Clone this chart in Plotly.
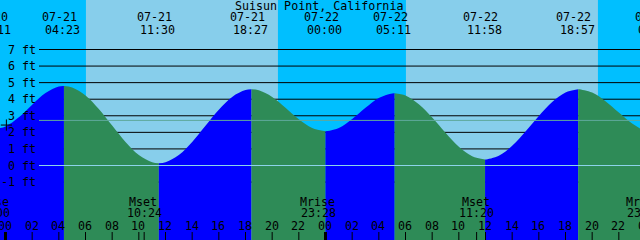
import pandas as pd
import plotly.graph_objects as go

# ---------------- data ----------------
YEAR = "2024"
title_text = "Suisun Point, California"

tide_times = ["07-20 23:11", "07-21 04:23", "07-21 11:30", "07-21 18:27",
              "07-22 00:00", "07-22 05:11", "07-22 11:58", "07-22 18:57",
              "07-23 00:50"]
tide_heights = [2.20, 4.80, 0.14, 4.60, 2.06, 4.36, 0.36, 4.60, 1.95]

hourly_start = "07-20 23:00"
hourly_heights = [2.21, 2.36, 2.91, 3.67, 4.37, 4.77, 4.71, 4.23, 3.41, 2.41,
                  1.42, 0.63, 0.20, 0.20, 0.63, 1.42, 2.40, 3.37, 4.14, 4.55,
                  4.54, 4.14, 3.49, 2.79, 2.26, 2.06, 2.27, 2.81, 3.49, 4.08,
                  4.35, 4.22, 3.69, 2.89, 1.97, 1.13, 0.56, 0.36, 0.59, 1.19,
                  2.05, 2.99, 3.83, 4.41, 4.60, 4.40, 3.88, 3.20, 2.54, 2.08]

moon_times = ["07-20 23:00", "07-21 10:24", "07-21 23:28", "07-22 11:20", "07-22 23:55"]
moon_events = ["Mrise", "Mset", "Mrise", "Mset", "Mrise"]

sunrise_times = ["07-21 06:02", "07-22 06:02"]
sunset_times = ["07-21 20:26", "07-22 20:26"]

ft_levels = [-1, 0, 1, 2, 3, 4, 5, 6, 7]
ft_labels = ["-1 ft", "0 ft", "1 ft", "2 ft", "3 ft", "4 ft", "5 ft", "6 ft", "7 ft"]
msl_level = 2.72
mark_time = "07-21 00:04"
mark_height = 2.44

view_start = "07-20 23:35:15"
view_hours = 48
y_range = [-4.496, 9.987]

# ---------------- styles ----------------
NIGHT = "#00BFFF"
DAY = "#87CEEB"
RISE = "#0000FF"
FALL = "#2E8B57"
FONT = dict(family="DejaVu Sans Mono", size=11.67, color="black")
W, H = 640, 240


def ts(s):
    return pd.Timestamp(f"{YEAR}-{s}")


x0 = ts(view_start)
x1 = x0 + pd.Timedelta(hours=view_hours)


def frac(t):
    return (t - x0) / (x1 - x0)


hourly_t = pd.date_range(ts(hourly_start), periods=len(hourly_heights), freq="h")
hourly = pd.Series(hourly_heights, index=hourly_t)
ev_t = [ts(s) for s in tide_times]
ev = pd.Series(tide_heights, index=ev_t)
curve = pd.concat([hourly[~hourly.index.isin(ev.index)], ev]).sort_index()

bounds = sorted(set([curve.index[0], curve.index[-1]] + ev_t))

fig = go.Figure()
for a, b in zip(bounds[:-1], bounds[1:]):
    seg = curve[a:b]
    col = RISE if seg.iloc[-1] > seg.iloc[0] else FALL
    fig.add_trace(go.Scatter(x=[a, b], y=[y_range[0] - 2] * 2, mode="lines",
                             line=dict(width=0), hoverinfo="skip", showlegend=False))
    fig.add_trace(go.Scatter(x=seg.index, y=seg.values, mode="lines",
                             line=dict(width=0, shape="spline", color=col),
                             fill="tonexty", fillcolor=col,
                             hoverinfo="skip", showlegend=False))

fig.add_trace(go.Scatter(x=[ts(mark_time)], y=[mark_height], mode="markers",
                         marker=dict(symbol="cross-thin", size=8,
                                     line=dict(width=1, color="black")),
                         hoverinfo="skip", showlegend=False))

shapes = []
for sr, ss in zip(sunrise_times, sunset_times):
    shapes.append(dict(type="rect", xref="x", yref="paper", x0=ts(sr), x1=ts(ss),
                       y0=0, y1=1, fillcolor=DAY, line=dict(width=0), layer="below"))
for lv in ft_levels:
    shapes.append(dict(type="line", xref="paper", yref="y", x0=39 / W, x1=1,
                       y0=lv, y1=lv, line=dict(color="black", width=1), layer="below"))
shapes.append(dict(type="line", xref="paper", yref="y", x0=39 / W, x1=1, y0=0, y1=0,
                   line=dict(color="#8CD3EA", width=1), layer="above"))
shapes.append(dict(type="line", xref="paper", yref="y", x0=39 / W, x1=1,
                   y0=msl_level, y1=msl_level, line=dict(color="#5FA99C", width=1),
                   layer="above"))

hour_ticks = pd.date_range(ts("07-20 22:00"), ts("07-23 02:00"), freq="2h")
for t in hour_ticks:
    shapes.append(dict(type="line", xref="x", yref="paper", x0=t, x1=t,
                       y0=0, y1=8 / H,
                       line=dict(color="black", width=3 if t.hour == 0 else 1),
                       layer="above"))
for t, k in zip(moon_times, moon_events):
    if k == "Mset":
        shapes.append(dict(type="line", xref="x", yref="paper", x0=ts(t), x1=ts(t),
                           y0=0, y1=8 / H, line=dict(color="black", width=1),
                           layer="above"))

ann = []


def add_text(text, xf, ypx, xanchor="center", xshift=0):
    ann.append(dict(text=text, xref="paper", yref="paper", x=xf, y=1 - ypx / H,
                    xanchor=xanchor, yanchor="middle", showarrow=False,
                    font=FONT, borderpad=0, xshift=xshift))


add_text(title_text, 0.5, 6, xshift=-1)
for t in ev_t:
    add_text(t.strftime("%m-%d"), frac(t), 17.5, xshift=-4.5)
    add_text(t.strftime("%H:%M"), frac(t), 30, xshift=-1)
for t, k in zip(moon_times, moon_events):
    tt = ts(t)
    add_text(k, frac(tt), 201.5, xshift=-1)
    add_text(tt.strftime("%H:%M"), frac(tt), 213)
for t in hour_ticks:
    add_text(t.strftime("%H"), frac(t), 226, xshift=-0.5)
for lv, lab in zip(ft_levels, ft_labels):
    ann.append(dict(text=lab, xref="paper", yref="y", x=37 / W, y=lv,
                    xanchor="right", yanchor="middle", showarrow=False,
                    font=FONT, borderpad=0))

fig.update_layout(
    width=W, height=H, margin=dict(l=0, r=0, t=0, b=0, pad=0),
    plot_bgcolor=NIGHT, paper_bgcolor=NIGHT,
    xaxis=dict(type="date", range=[x0, x1], visible=False, showgrid=False, zeroline=False),
    yaxis=dict(range=y_range, visible=False, showgrid=False, zeroline=False),
    shapes=shapes, annotations=ann, showlegend=False,
)
fig.write_html("out.html")
